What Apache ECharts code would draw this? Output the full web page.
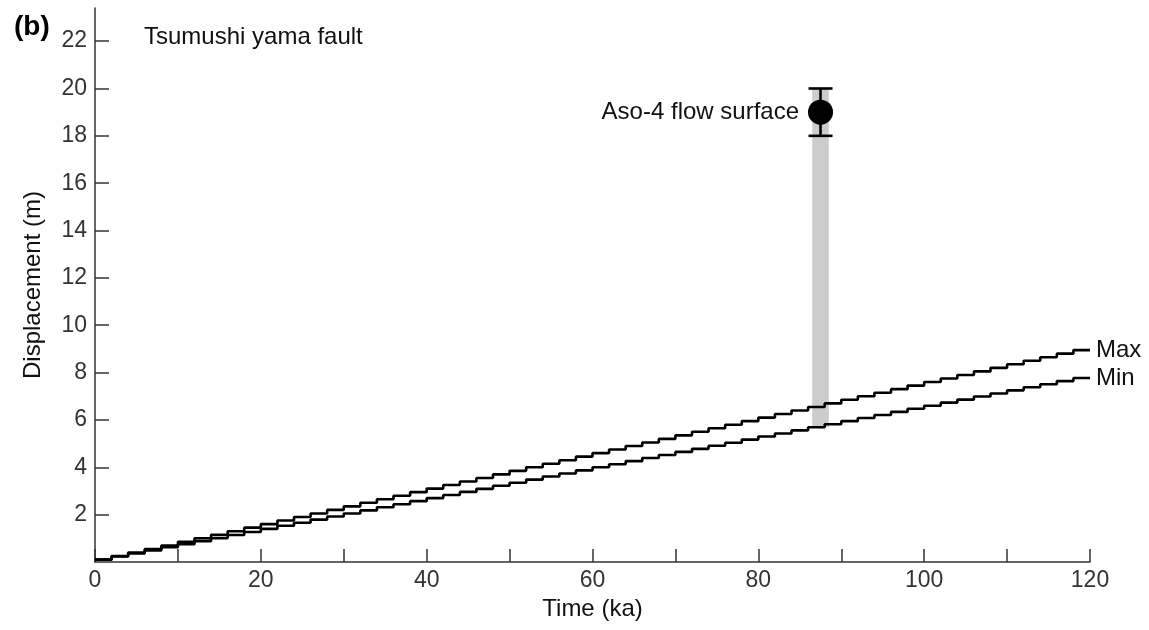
<!DOCTYPE html>
<html>
<head>
<meta charset="utf-8">
<script src="https://cdn.jsdelivr.net/npm/echarts@6/dist/echarts.min.js"></script>
<style>html,body{margin:0;padding:0;background:#fff}#c{width:1149px;height:630px}</style>
</head>
<body>
<div id="c"></div>
<script>
// Time (ka) at which each step begins
const times = [0,2,4,6,8,10,12,14,16,18,20,22,24,26,28,30,32,34,36,38,40,42,44,46,48,50,52,54,56,58,60,62,64,66,68,70,72,74,76,78,80,82,84,86,88,90,92,94,96,98,100,102,104,106,108,110,112,114,116,118,120];
// Cumulative displacement (m), max scenario
const maxDisp = [0.10,0.25,0.40,0.55,0.70,0.85,1.00,1.15,1.30,1.45,
  1.60,1.75,1.90,2.05,2.20,2.35,2.50,2.65,2.80,2.95,
  3.10,3.25,3.40,3.55,3.70,3.85,4.00,4.15,4.30,4.45,
  4.60,4.75,4.90,5.05,5.20,5.35,5.50,5.65,5.80,5.95,
  6.10,6.25,6.40,6.55,6.70,6.85,7.00,7.15,7.30,7.45,
  7.60,7.75,7.90,8.05,8.20,8.35,8.50,8.65,8.80,8.95,8.95];
// Cumulative displacement (m), min scenario
const minDisp = [0.10,0.23,0.36,0.49,0.62,0.75,0.88,1.01,1.14,1.27,
  1.40,1.53,1.66,1.79,1.92,2.05,2.18,2.31,2.44,2.57,
  2.70,2.83,2.96,3.09,3.22,3.35,3.48,3.61,3.74,3.87,
  4.00,4.13,4.26,4.39,4.52,4.65,4.78,4.91,5.04,5.17,
  5.30,5.43,5.56,5.69,5.82,5.95,6.08,6.21,6.34,6.47,
  6.60,6.73,6.86,6.99,7.12,7.25,7.38,7.51,7.64,7.77,7.77];
// Aso-4 flow surface marker
const asoTime = 87.5;
const asoDisp = 19.0;
const asoLow = 18.0;
const asoHigh = 20.0;
const asoTimeRange = [86.5, 88.5];
const asoBarBottom = 5.7;
const xTicks = [0,20,40,60,80,100,120];
const yTicks = [2,4,6,8,10,12,14,16,18,20,22];

const FONT = '"Liberation Sans", Arial, sans-serif';
const chart = echarts.init(document.getElementById('c'), null, {renderer: 'canvas'});
const maxData = times.map((t, i) => [t, maxDisp[i]]);
const minData = times.map((t, i) => [t, minDisp[i]]);

chart.setOption({
  animation: false,
  backgroundColor: '#fff',
  textStyle: {fontFamily: FONT},
  title: [
    {text: '(b)', left: 9, top: 8, textStyle: {fontFamily: FONT, fontSize: 28, fontWeight: 'bold', color: '#000'}},
    {text: 'Tsumushi yama fault', left: 139, top: 20, textStyle: {fontFamily: FONT, fontSize: 24, fontWeight: 'normal', color: '#111'}}
  ],
  grid: {left: 95, right: 59, top: 8, bottom: 68, containLabel: false},
  xAxis: {
    type: 'value', min: 0, max: 120, interval: 10,
    name: 'Time (ka)', nameLocation: 'middle', nameGap: 32,
    nameTextStyle: {fontFamily: FONT, fontSize: 24, color: '#111'},
    axisLine: {show: true, onZero: false, lineStyle: {color: '#333', width: 1.5}},
    axisTick: {show: true, inside: true, length: 13, lineStyle: {color: '#333', width: 1.5}},
    axisLabel: {fontFamily: FONT, fontSize: 23, color: '#333', margin: 7,
      formatter: v => (xTicks.indexOf(v) >= 0 ? String(v) : '')},
    splitLine: {show: false}
  },
  yAxis: {
    type: 'value', min: 0, max: 23.4, interval: 2,
    name: 'Displacement (m)', nameLocation: 'middle', nameGap: 50,
    nameTextStyle: {fontFamily: FONT, fontSize: 24, color: '#111'},
    axisLine: {show: true, onZero: false, lineStyle: {color: '#333', width: 1.5}},
    axisTick: {show: true, inside: true, length: 14, lineStyle: {color: '#333', width: 1.5}},
    axisLabel: {fontFamily: FONT, fontSize: 23, color: '#333', margin: 8,
      showMinLabel: false, showMaxLabel: false,
      formatter: v => (yTicks.indexOf(v) >= 0 ? String(v) : '')},
    splitLine: {show: false}
  },
  series: [
    {
      type: 'custom', name: 'bar', z: 1, silent: true,
      data: [[asoTimeRange[0], asoTimeRange[1], asoBarBottom, asoHigh]],
      renderItem: (params, api) => {
        const p0 = api.coord([api.value(0), api.value(3)]);
        const p1 = api.coord([api.value(1), api.value(2)]);
        return {type: 'rect', shape: {x: p0[0], y: p0[1], width: p1[0] - p0[0], height: p1[1] - p0[1]},
          style: {fill: '#cccccc'}};
      }
    },
    {
      type: 'line', name: 'Max', data: maxData, step: 'end', symbol: 'none', z: 3,
      lineStyle: {color: '#000', width: 2.6},
      endLabel: {show: true, formatter: 'Max', fontFamily: FONT, fontSize: 24, color: '#111', distance: 6}
    },
    {
      type: 'line', name: 'Min', data: minData, step: 'end', symbol: 'none', z: 3,
      lineStyle: {color: '#000', width: 2.6},
      endLabel: {show: true, formatter: 'Min', fontFamily: FONT, fontSize: 24, color: '#111', distance: 6}
    },
    {
      type: 'custom', name: 'err', z: 4, silent: true,
      data: [[asoTime, asoLow, asoHigh]],
      renderItem: (params, api) => {
        const lo = api.coord([api.value(0), api.value(1)]);
        const hi = api.coord([api.value(0), api.value(2)]);
        const half = 12;
        const st = {stroke: '#000', lineWidth: 2.6};
        return {type: 'group', children: [
          {type: 'line', shape: {x1: lo[0], y1: lo[1], x2: hi[0], y2: hi[1]}, style: st},
          {type: 'line', shape: {x1: lo[0] - half, y1: lo[1], x2: lo[0] + half, y2: lo[1]}, style: st},
          {type: 'line', shape: {x1: hi[0] - half, y1: hi[1], x2: hi[0] + half, y2: hi[1]}, style: st}
        ]};
      }
    },
    {
      type: 'scatter', name: 'Aso-4', z: 5, data: [[asoTime, asoDisp]],
      symbol: 'circle', symbolSize: 25, itemStyle: {color: '#000', opacity: 1},
      label: {show: true, position: 'left', distance: 9, formatter: 'Aso-4 flow surface',
        fontFamily: FONT, fontSize: 24, color: '#111'}
    }
  ]
});
</script>
</body>
</html>
